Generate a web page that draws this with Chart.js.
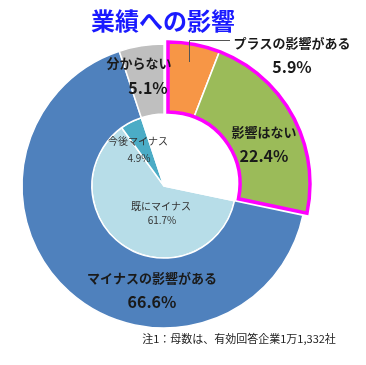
<!DOCTYPE html>
<html>
<head>
<meta charset="utf-8">
<script src="https://cdn.jsdelivr.net/npm/chart.js@4"></script>
<style>
  body { margin: 0; background: #fff; }
  #wrap { width: 366px; height: 365px; position: relative; }
</style>
</head>
<body>
<div id="wrap"><canvas id="canvas"></canvas></div>
<script>
const title = '業績への影響';
const note = '注1：母数は、有効回答企業1万1,332社';

const outerLabels = ['プラスの影響がある', '影響はない', 'マイナスの影響がある', '分からない'];
const outerValues = [5.9, 22.4, 66.6, 5.1];
const outerColors = ['#f79646', '#9bbb59', '#4f81bd', '#bfbfbf'];

const innerLabels = ['既にマイナス', '今後マイナス', ''];
const innerValues = [61.7, 4.9, 33.4];
const innerColors = ['#b7dde8', '#4bacc6', '#ffffff'];

// slices pulled out and framed in magenta
const framed = [0, 1];
const pull = { x: 4, y: -2 };

// label spots (text centre)
const outerSpots = [
  { name: [292, 43], pct: [292, 67] },
  { name: [264, 132], pct: [264, 156] },
  { name: [152, 278], pct: [152, 302] },
  { name: [139, 63], pct: [148, 88] },
];
const innerSpots = [
  { name: [161, 206], pct: [162, 220] },
  { name: [138, 141], pct: [139, 158] },
];

const innerStart = (outerValues[0] + outerValues[1]) / 100 * 360;

const explodePlugin = {
  id: 'explode',
  beforeDatasetDraw(chart, args) {
    if (args.index !== 0) return;
    const ctx = chart.ctx;
    const arcs = args.meta.data;
    arcs.forEach((arc, i) => {
      ctx.save();
      if (framed.includes(i)) ctx.translate(pull.x, pull.y);
      arc.draw(ctx, chart.chartArea);
      ctx.restore();
    });
    // magenta frame round the pulled group
    const a = arcs[framed[0]], b = arcs[framed[framed.length - 1]];
    ctx.save();
    ctx.translate(pull.x, pull.y);
    ctx.beginPath();
    ctx.arc(a.x, a.y, a.outerRadius, a.startAngle, b.endAngle);
    ctx.arc(a.x, a.y, a.innerRadius, b.endAngle, a.startAngle, true);
    ctx.closePath();
    ctx.lineWidth = 3.5;
    ctx.lineJoin = 'miter';
    ctx.strokeStyle = '#ff00ff';
    ctx.stroke();
    ctx.restore();
    return false;
  },
};

const textPlugin = {
  id: 'texts',
  afterDraw(chart) {
    const ctx = chart.ctx;
    ctx.save();
    ctx.textAlign = 'center';
    ctx.textBaseline = 'middle';

    ctx.fillStyle = '#1a1aff';
    ctx.font = 'bold 24px "Noto Sans CJK JP"';
    ctx.fillText(title, 163, 21);

    // leader line for the small orange slice
    ctx.strokeStyle = '#555';
    ctx.lineWidth = 1;
    ctx.beginPath();
    ctx.moveTo(189.5, 62);
    ctx.lineTo(189.5, 40.5);
    ctx.lineTo(230, 40.5);
    ctx.stroke();

    ctx.fillStyle = '#1a1a1a';
    outerLabels.forEach((lab, i) => {
      const s = outerSpots[i];
      ctx.font = 'bold 13px "Noto Sans CJK JP"';
      ctx.fillText(lab, s.name[0], s.name[1]);
      ctx.font = 'bold 16px "Noto Sans CJK JP"';
      ctx.fillText(outerValues[i].toFixed(1) + '%', s.pct[0], s.pct[1]);
    });

    ctx.fillStyle = '#333';
    ctx.font = '10px "Noto Sans CJK JP"';
    innerSpots.forEach((s, i) => {
      ctx.fillText(innerLabels[i], s.name[0], s.name[1]);
      ctx.fillText(innerValues[i].toFixed(1) + '%', s.pct[0], s.pct[1]);
    });

    ctx.fillStyle = '#222';
    ctx.font = '11px "Noto Sans CJK JP"';
    ctx.fillText(note, 239, 339);
    ctx.restore();
  },
};

new Chart(document.getElementById('canvas'), {
  type: 'doughnut',
  data: {
    labels: outerLabels,
    datasets: [
      {
        data: outerValues,
        backgroundColor: outerColors,
        borderColor: '#fff',
        borderWidth: 1.5,
        weight: 70,
      },
      {
        data: innerValues,
        backgroundColor: innerColors,
        borderColor: '#fff',
        borderWidth: 1.5,
        weight: 72,
        rotation: innerStart,
      },
    ],
  },
  options: {
    responsive: true,
    maintainAspectRatio: false,
    animation: false,
    events: [],
    cutout: 0,
    radius: 142,
    layout: { padding: { left: 0, right: 38, top: 40, bottom: 33 } },
    plugins: {
      legend: { display: false },
      tooltip: { enabled: false },
    },
  },
  plugins: [explodePlugin, textPlugin],
});
</script>
</body>
</html>
